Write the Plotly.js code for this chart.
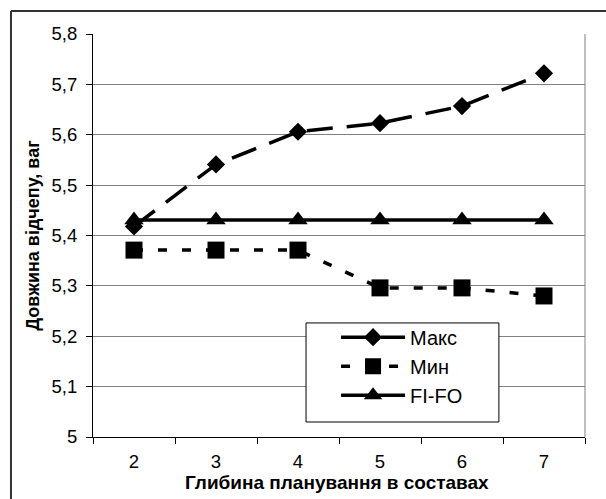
<!DOCTYPE html>
<html>
<head>
<meta charset="utf-8">
<script src="https://cdn.plot.ly/plotly-3.0.1.min.js"></script>
<style>html,body{margin:0;padding:0;background:#fff;}#chart{width:606px;height:499px;}</style>
</head>
<body>
<div id="chart"></div>
<script>
const categories = ['2', '3', '4', '5', '6', '7'];
const maxValues = [5.418, 5.541, 5.606, 5.623, 5.657, 5.722];
const minValues = [5.371, 5.371, 5.371, 5.296, 5.296, 5.280];
const fifoValues = [5.431, 5.431, 5.431, 5.431, 5.431, 5.431];
const yTickVals = [5, 5.1, 5.2, 5.3, 5.4, 5.5, 5.6, 5.7, 5.8];
const yTickText = ['5', '5,1', '5,2', '5,3', '5,4', '5,5', '5,6', '5,7', '5,8'];
const xTitle = 'Глибина планування в составах';
const yTitle = 'Довжина відчепу, ваг';

const FONT = 'Liberation Sans, Arial, sans-serif';

const traces = [
  {
    x: categories, y: maxValues, name: 'Макс', type: 'scatter', mode: 'lines+markers',
    legendgroup: 'a',
    line: {color: '#000', width: 3.5, dash: '26px,14px'},
    marker: {symbol: 'diamond', size: 14, color: '#000'}
  },
  {
    x: categories, y: minValues, name: 'Мин', type: 'scatter', mode: 'lines+markers',
    legendgroup: 'b',
    line: {color: '#000', width: 3.5, dash: '9px,15px'},
    marker: {symbol: 'square', size: 17, color: '#000'}
  },
  {
    x: categories, y: fifoValues, name: 'FI-FO', type: 'scatter', mode: 'lines+markers',
    legendgroup: 'c',
    line: {color: '#000', width: 3.5},
    marker: {symbol: 'triangle-up', size: 17, color: '#000'}
  }
];

const layout = {
  width: 606, height: 499,
  margin: {l: 93, r: 21, t: 34, b: 62},
  paper_bgcolor: '#fff', plot_bgcolor: '#fff',
  font: {family: FONT, color: '#000', size: 18},
  showlegend: true,
  legend: {
    x: 0.494, y: 0.296, xanchor: 'left', yanchor: 'top',
    borderwidth: 0, bgcolor: 'rgba(0,0,0,0)',
    font: {family: FONT, size: 20, color: '#000'},
    itemwidth: 64, tracegroupgap: 13, traceorder: 'normal'
  },
  xaxis: {
    type: 'category', range: [-0.5, 5.5],
    tickson: 'boundaries', ticks: 'outside', ticklen: 6, tickcolor: '#000', tickwidth: 1,
    showline: true, linecolor: '#000', linewidth: 1,
    showgrid: false, zeroline: false, ticklabelstandoff: 8,
    tickfont: {family: FONT, size: 18.5, color: '#000'}
  },
  yaxis: {
    range: [5, 5.8], tickvals: yTickVals, ticktext: yTickText,
    ticks: 'outside', ticklen: 6, tickcolor: '#000', tickwidth: 1,
    showline: true, linecolor: '#000', linewidth: 1, ticklabelstandoff: 5,
    showgrid: true, gridcolor: '#808080', gridwidth: 1, zeroline: false,
    tickfont: {family: FONT, size: 18.5, color: '#000'},
    title: {text: yTitle, font: {family: FONT, size: 18, color: '#000', weight: 'bold'}, standoff: 7}
  },
  annotations: [
    {text: '<b>' + xTitle + '</b>', xref: 'paper', yref: 'paper', x: 0.496, y: -0.112,
     xanchor: 'center', yanchor: 'middle', showarrow: false,
     font: {family: FONT, size: 19, color: '#000'}}
  ],
  shapes: [
    {type: 'line', xref: 'paper', yref: 'paper', x0: 1, x1: 1, y0: 0, y1: 1, line: {color: '#808080', width: 1}},
    {type: 'rect', xref: 'paper', yref: 'paper', x0: 0.433, x1: 0.825, y0: 0.0372, y1: 0.283, layer: 'above', fillcolor: '#fff', line: {color: '#000', width: 1}},
    {type: 'line', xref: 'paper', yref: 'paper', x0: -0.1667, x1: -0.1667, y0: -0.2, y1: 1.057, line: {color: '#333', width: 2}},
    {type: 'line', xref: 'paper', yref: 'paper', x0: -0.1667, x1: 1.1, y0: 1.057, y1: 1.057, line: {color: '#333', width: 2}}
  ]
};

Plotly.newPlot('chart', traces, layout, {displayModeBar: false, staticPlot: true});
</script>
</body>
</html>
